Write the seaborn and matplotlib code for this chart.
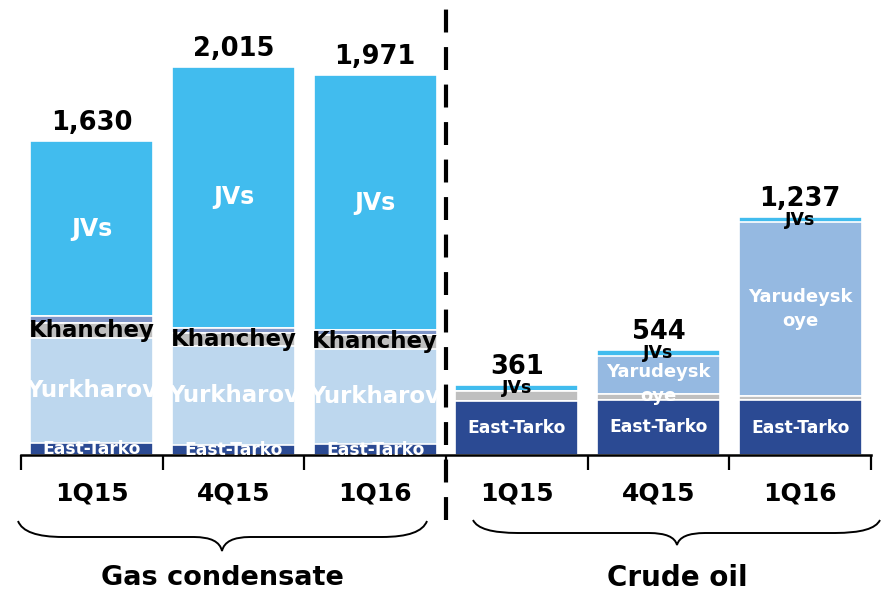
import numpy as np
import pandas as pd
import matplotlib
matplotlib.use("Agg")
import matplotlib.pyplot as plt
from matplotlib.path import Path
from matplotlib.patches import PathPatch
import seaborn as sns

# bars: 3 gas condensate quarters, then 3 crude oil quarters
bar_keys = ["gc_1Q15", "gc_4Q15", "gc_1Q16", "co_1Q15", "co_4Q15", "co_1Q16"]
quarters = ["1Q15", "4Q15", "1Q16", "1Q15", "4Q15", "1Q16"]
groups = ["Gas condensate", "Crude oil"]

# segments, bottom to top (thousand tons)
east_tarko = [62, 52, 57, 280, 288, 285]
yurkharov = [545, 515, 495, 0, 0, 0]
khanchey = [78, 68, 72, 0, 0, 0]
other_oil = [0, 0, 0, 50, 28, 22]
other_gas = [36, 26, 26, 0, 0, 0]
yarudeyskoye = [0, 0, 0, 0, 196, 900]
jvs = [909, 1354, 1321, 31, 32, 30]
totals = [1630, 2015, 1971, 361, 544, 1237]

segments = [
    ("East-Tarko", east_tarko, "#2B4A93"),
    ("Yurkharov", yurkharov, "#BDD7EE"),
    ("Khanchey", khanchey, "#BFBFBF"),
    ("Other oil", other_oil, "#BFBFBF"),
    ("Other gas", other_gas, "#8096C8"),
    ("Yarudeyskoye", yarudeyskoye, "#95B9E1"),
    ("JVs", jvs, "#41BCEE"),
]

sns.set_style("white")
plt.rcParams["font.family"] = ["DejaVu Sans"]
plt.rcParams["font.weight"] = "bold"
plt.rcParams["text.color"] = "black"
plt.rcParams["xtick.color"] = "black"
plt.rcParams["xtick.labelcolor"] = "black"

W, H = 881, 594
fig = plt.figure(figsize=(W / 100, H / 100), dpi=100)
ax = fig.add_axes([21 / W, 1 - 455 / H, 850 / W, 455 / H])

# cumulative stacks, drawn from the top layer down so lower layers sit on top
df = pd.DataFrame({name: vals for name, vals, _ in segments}, index=bar_keys)
cum = df.cumsum(axis=1)
for name, _, color in reversed(segments):
    sns.barplot(x=bar_keys, y=cum[name].values, order=bar_keys, color=color,
                saturation=1, width=0.87, edgecolor="white", linewidth=1.2,
                errorbar=None, ax=ax)

ax.set_xlim(-0.5, 5.5)
ax.set_ylim(0, 2362)
ax.set_yticks([])
ax.set_ylabel("")
for s in ["top", "left", "right"]:
    ax.spines[s].set_visible(False)
ax.spines["bottom"].set_linewidth(1.8)
ax.spines["bottom"].set_color("black")

ax.set_xticks(np.arange(-0.5, 6, 1.0))
ax.set_xticklabels([])
ax.tick_params(axis="x", which="major", bottom=True, direction="out",
               length=11, width=1.6, color="black")
ax.set_xticks(np.arange(6), minor=True)
ax.set_xticklabels(quarters, minor=True, fontsize=18, fontweight="bold",
                   color="black")
ax.tick_params(axis="x", which="minor", bottom=True, length=0, pad=19)


def seg_mid(name, i):
    top = cum[name].iloc[i]
    return top - df[name].iloc[i] / 2


# totals above bars
for i, t in enumerate(totals):
    ax.text(i, t + 57, f"{t:,}", ha="center", va="baseline", fontsize=18.5,
            fontweight="bold", color="black")

# gas condensate labels
for i in range(3):
    ax.text(i, seg_mid("JVs", i), "JVs", ha="center", va="center",
            fontsize=17, color="white", fontweight="bold")
    ax.text(i, seg_mid("Khanchey", i), "Khanchey", ha="center", va="center",
            fontsize=16.5, color="black", fontweight="bold")
    ax.text(i, seg_mid("Yurkharov", i), "Yurkharov", ha="center", va="center",
            fontsize=16.5, color="white", fontweight="bold")
    ax.text(i, seg_mid("East-Tarko", i), "East-Tarko", ha="center", va="center",
            fontsize=12.3, color="white", fontweight="bold")

# crude oil labels; a thin segment pushes its label a bit lower
for i in range(3, 6):
    ax.text(i, seg_mid("JVs", i), "JVs", ha="center", va="center",
            fontsize=12.5, color="black", fontweight="bold")
    ax.text(i, seg_mid("East-Tarko", i), "East-Tarko", ha="center", va="center",
            fontsize=12.3, color="white", fontweight="bold")
    if yarudeyskoye[i] > 0:
        nudge = 45 if yarudeyskoye[i] < 300 else 0
        ax.text(i, seg_mid("Yarudeyskoye", i) - nudge, "Yarudeysk\noye",
                ha="center", va="center", fontsize=13, color="white",
                fontweight="bold", linespacing=1.4)

# dashed separator between the two groups
ax.plot([2.5, 2.5], [-65 / 455, 1.0], transform=ax.get_xaxis_transform(),
        color="black", linewidth=3, linestyle=(0, (5.5, 3.5)), clip_on=False)


def px(x, y):
    return (x / W, 1 - y / H)


def brace(x0, x1, xm, ytop, ymid, ybot):
    verts = [px(x0, ytop), px(x0 + 6, ymid), px(x0 + 45, ymid),
             px(xm - 28, ymid),
             px(xm - 3, ymid), px(xm, ybot),
             px(xm + 3, ymid), px(xm + 28, ymid),
             px(x1 - 45, ymid),
             px(x1 - 6, ymid), px(x1, ytop)]
    codes = [Path.MOVETO, Path.CURVE3, Path.CURVE3, Path.LINETO,
             Path.CURVE3, Path.CURVE3, Path.CURVE3, Path.CURVE3,
             Path.LINETO, Path.CURVE3, Path.CURVE3]
    fig.add_artist(PathPatch(Path(verts, codes), facecolor="none",
                             edgecolor="black", linewidth=1.4,
                             transform=fig.transFigure))


brace(18, 427, 222, 521, 537, 551)
brace(473, 880, 677, 520, 533, 545)

fig.text(222 / W, 1 - 578 / H, groups[0], ha="center", va="center",
         fontsize=19.5, fontweight="bold", color="black")
fig.text(677 / W, 1 - 578 / H, groups[1], ha="center", va="center",
         fontsize=20, fontweight="bold", color="black")

fig.savefig("out.png", dpi=100)
